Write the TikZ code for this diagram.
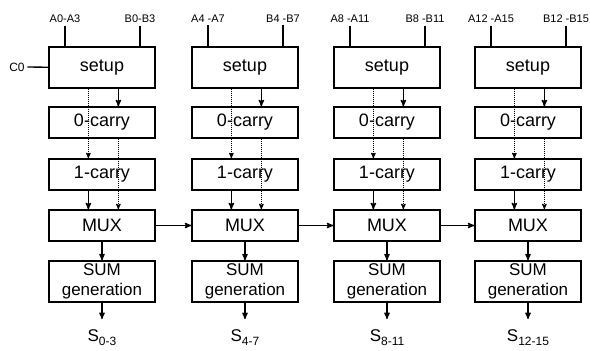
\documentclass[tikz,border=0pt]{standalone}
\usepackage{fontspec}
\setmainfont{Liberation Sans}
\usetikzlibrary{arrows}

\newcommand{\outlabel}[1]{{\fontsize{17}{17}\selectfont S}\raisebox{-4pt}{\fontsize{12}{12}\selectfont #1}}

\begin{document}
\begin{tikzpicture}[->, >=stealth', x=1pt, y=-1pt, line width=1.3pt]
	\tikzstyle{block}=[draw=black, line width=1.3pt, minimum width=106pt, inner sep=0pt, font=\fontsize{18}{18}\selectfont]
	\tikzstyle{tall}=[block, minimum height=41pt]
	\tikzstyle{short}=[block, minimum height=31pt]
	\tikzstyle{bus}=[font=\fontsize{11}{11}\selectfont, inner sep=2pt]
	\tikzstyle{guess}=[densely dotted, line width=1pt]

	\useasboundingbox (0,0) rectangle (590,351);

	\node[bus, font=\fontsize{12}{12}\selectfont] at (17,67) (cin) {C0};

	\foreach \i/\x/\ra/\rb/\rs in {1/102/A0-A3/B0-B3/0-3, 2/245/A4 -A7/B4 -B7/4-7, 3/387/A8 -A11/B8 -B11/8-11, 4/528/A12 -A15/B12 -B15/12-15}{
		\node[tall] at (\x,67.5) (setup\i) {setup};
		\node[short] at (\x,122.5) (zero\i) {0-carry};
		\node[short] at (\x,174.5) (one\i) {1-carry};
		\node[short] at (\x,225.5) (mux\i) {MUX};
		\node[tall, align=center, font=\fontsize{17}{20}\selectfont] at (\x,281.5) (sum\i) {SUM\\generation};
		\node at (\x,338) (out\i) {\outlabel{\rs}};
		\node[bus] at (\x-37,19) (a\i) {\ra};
		\node[bus] at (\x+38,19) (b\i) {\rb};

		\draw[-] (a\i) -- (a\i |- setup\i.north);
		\draw[-] (b\i) -- (b\i |- setup\i.north);
		\draw ([xshift=70pt]setup\i.south west) -- ([xshift=70pt]zero\i.north west);
		\draw[guess] ([xshift=40pt]setup\i.south west) -- ([xshift=40pt]one\i.north west);
		\draw[guess] ([xshift=70pt]zero\i.south west) -- ([xshift=70pt]mux\i.north west);
		\draw ([xshift=40pt]one\i.south west) -- ([xshift=40pt]mux\i.north west);
		\draw (mux\i) -- (sum\i);
		\draw[shorten >=7pt] (sum\i) -- (out\i);
	}

	\draw[-] (cin) -- (setup1);
	\foreach \i/\j in {1/2, 2/3, 3/4}
		\draw (mux\i) -- (mux\j);
\end{tikzpicture}
\end{document}
